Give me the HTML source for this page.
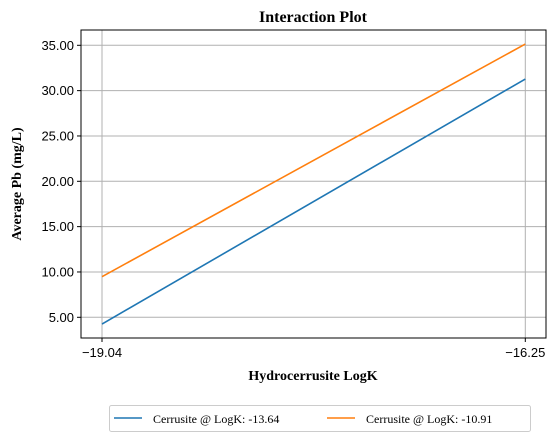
<!DOCTYPE html>
<html><head><meta charset="utf-8"><style>
body{margin:0;background:#fff;}
svg text{font-family:"Liberation Sans",sans-serif;}
.serif{font-family:"Liberation Serif",serif;}
</style></head><body>
<svg id="chart" width="560" height="442" xmlns="http://www.w3.org/2000/svg">
<text class="serif" x="313" y="22" text-anchor="middle" font-size="16" font-weight="bold">Interaction Plot</text>
<g id="grid"></g><g id="series"></g><g id="axes"></g>
<text class="serif" x="313" y="380" text-anchor="middle" font-size="14" font-weight="bold">Hydrocerrusite LogK</text>
<text class="serif" transform="translate(21,184) rotate(-90)" text-anchor="middle" font-size="14" font-weight="bold">Average Pb (mg/L)</text>
<g>
<rect x="109.5" y="405.5" width="421" height="26" fill="#fff" stroke="#ccc" rx="2"/>
<g><line x1="114" y1="418" x2="142" y2="418" stroke="#1f77b4" stroke-width="1.5"/><text class="serif" x="153" y="423" font-size="12">Cerrusite @ LogK: -13.64</text></g>
<g><line x1="327" y1="418" x2="355" y2="418" stroke="#ff7f0e" stroke-width="1.5"/><text class="serif" x="366" y="423" font-size="12">Cerrusite @ LogK: -10.91</text></g>
</g>
</svg>
<script>
const xCategories=["-19.04","-16.25"];
const seriesBlue=[4.26,31.28];
const seriesOrange=[9.48,35.14];
const yTicks=[5,10,15,20,25,30,35];
const L=81,R=546,T=30,B=338;
const xs=i=>102+i*(525.3-102);
const ys=v=>317.3-(v-5)*(317.3-45.3)/30;
const NS="http://www.w3.org/2000/svg";
function mk(p,tag,a){const e=document.createElementNS(NS,tag);for(const k in a)e.setAttribute(k,a[k]);p.appendChild(e);return e;}
const grid=document.getElementById('grid'),axes=document.getElementById('axes'),ser=document.getElementById('series');
yTicks.forEach(v=>{const y=ys(v);
const g=mk(grid,'line',{x1:L,x2:R,y1:y,y2:y,stroke:'#b0b0b0','stroke-width':1});


mk(axes,'line',{x1:L-4,x2:L,y1:y,y2:y,stroke:'#000'});
const t=mk(axes,'text',{x:L-7,y:y+4.5,'text-anchor':'end','font-size':13});t.textContent=v.toFixed(2);

});
xCategories.forEach((c,i)=>{const x=xs(i);
const g=mk(grid,'line',{x1:x,x2:x,y1:T,y2:B,stroke:'#b0b0b0','stroke-width':1});


mk(axes,'line',{x1:x,x2:x,y1:B,y2:B+4,stroke:'#000'});
const t=mk(axes,'text',{x:x,y:B+19,'text-anchor':'middle','font-size':13});t.textContent=c.replace('-','\u2212');

});
const fr=mk(axes,'rect',{x:L,y:T,width:R-L,height:B-T,fill:'none',stroke:'#000','stroke-width':1});


[[seriesBlue,'#1f77b4','series-line-13-64'],[seriesOrange,'#ff7f0e','series-line-10-91']].forEach(([d,c,n])=>{
const p=mk(ser,'polyline',{points:d.map((v,i)=>xs(i)+','+ys(v)).join(' '),fill:'none',stroke:c,'stroke-width':1.6});

});
</script>
</body></html>
